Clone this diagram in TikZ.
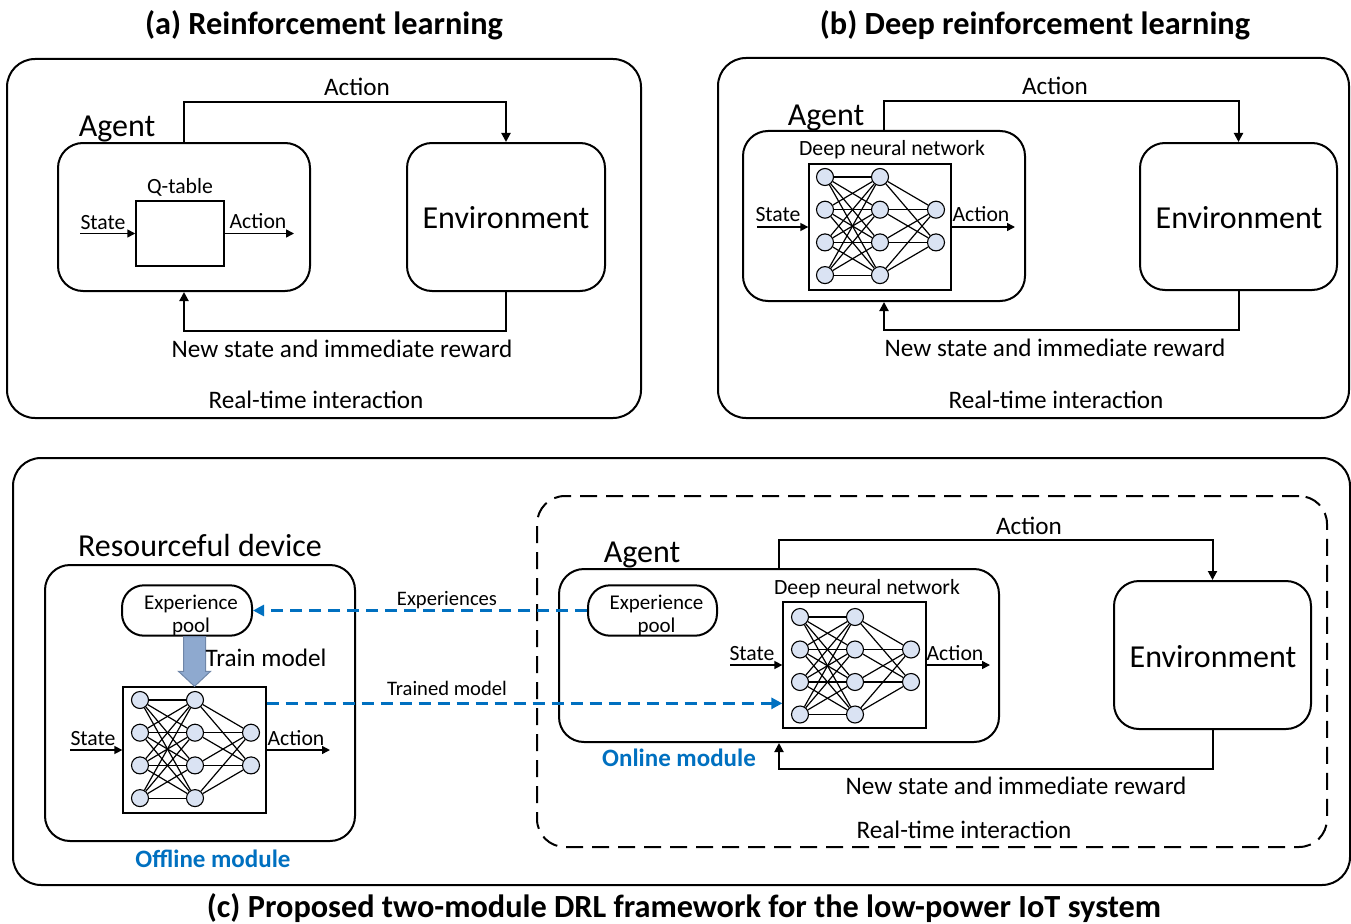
\documentclass[tikz,border=0pt]{standalone}
\usepackage{fontspec}
\setmainfont{Carlito}
\usetikzlibrary{arrows.meta,calc}
\definecolor{nnfill}{HTML}{DAE3F3}
\definecolor{myblue}{HTML}{0070C0}
\definecolor{arrfill}{HTML}{8EA9CF}
\definecolor{arrdraw}{HTML}{6F86A8}
\newcommand\fXL{\fontsize{32.3}{38}\selectfont\bfseries}
\newcommand\fL{\fontsize{32}{38}\selectfont}
\newcommand\fM{\fontsize{25.2}{30}\selectfont}
\newcommand\fS{\fontsize{21.7}{25}\selectfont}
\newcommand\fXS{\fontsize{20.6}{24}\selectfont}
\newcommand\fB{\fontsize{25}{30}\selectfont\bfseries}
\tikzset{
  outerbox/.style={draw, line width=2pt, rounded corners=28pt, inner sep=0pt},
  agentbox/.style={draw, line width=2pt, rounded corners=25pt, inner sep=0pt},
  nnbox/.style={draw, line width=1.3pt, inner sep=0pt},
  poolbox/.style={draw, line width=2pt, rounded corners=22pt, inner sep=0pt, align=center,
     font=\fontsize{21}{23}\selectfont, minimum width=130pt, minimum height=45pt},
  neuron/.style={circle, draw, line width=1.1pt, fill=nnfill, minimum size=17pt, inner sep=0pt},
  nnedge/.style={line width=1.2pt},
  conn/.style={line width=2pt, -{Triangle[length=9pt,width=9pt]}},
  sconn/.style={line width=1.5pt, -{Triangle[length=8pt,width=8pt]}},
  bluedash/.style={line width=2.6pt, myblue, dash pattern=on 12pt off 7pt,
     -{Triangle[length=11pt,width=11pt]}},
  txt/.style={inner sep=0pt, anchor=base},
}
\newcommand\nnet[4]{%
  \foreach \i in {1,...,4} {
    \node[neuron] (#1a\i) at (#2, {#3+(\i-1)*#4}) {};
    \node[neuron] (#1b\i) at ({#2+55}, {#3+(\i-1)*#4}) {};
  }
  \foreach \i in {1,2} \node[neuron] (#1c\i) at ({#2+111},{#3+\i*#4}) {};
  \foreach \i in {1,...,4} \foreach \j in {1,...,4} \draw[nnedge] (#1a\i) -- (#1b\j);
  \foreach \i in {1,...,4} \foreach \j in {1,2} \draw[nnedge] (#1b\i) -- (#1c\j);
}
\newcommand\pooltext{\hspace*{8pt}\rule{0pt}{24pt}Experience\\\hspace*{8pt}pool}
\begin{document}
\begin{tikzpicture}[x=1pt,y=-1pt]
\useasboundingbox (0,0) rectangle (1351,923);

% ---------------- (a) ----------------
\node[txt,font=\fXL] (titleA) at (324,35) {(a) Reinforcement learning};
\node[outerbox, minimum width=634pt, minimum height=359pt] (outA) at (324,238.5) {};
\node[agentbox, minimum width=252pt, minimum height=148pt] (agentA) at (184,217) {};
\node[nnbox, line width=1.5pt, minimum width=88pt, minimum height=65pt] (qtab) at (180,233.5) {};
\node[agentbox, minimum width=198pt, minimum height=148pt] (envA) at (506,217) {};
\node[txt,font=\fL] (envAt) at (506,228) {Environment};
\node[txt,font=\fL] (agentAt) at (117,136) {Agent};
\node[txt,font=\fS] (qtabt) at (180,193) {Q-table};
\coordinate (sA) at (80,233.5);
\coordinate (aA) at (294,233.5);
\draw[sconn] (sA) -- (qtab.west);
\draw[sconn] (qtab.east) -- (aA);
\node[txt,font=\fS] at (103,229) {State};
\node[txt,font=\fS] at (258,228) {Action};
\draw[conn] (agentA.north) -- ++(0,-40) -| (envA.north);
\draw[conn] (envA.south) -- ++(0,39) -| (agentA.south);
\node[txt,font=\fM] at (357,96) {Action};
\node[txt,font=\fM] at (342,357) {New state and immediate reward};
\node[txt,font=\fM] at (316,408) {Real-time interaction};

% ---------------- (b) ----------------
\node[txt,font=\fXL] (titleB) at (1035,35) {(b) Deep reinforcement learning};
\node[outerbox, minimum width=631pt, minimum height=360pt] (outB) at (1033.5,238) {};
\node[agentbox, minimum width=282pt, minimum height=170pt] (agentB) at (884,216) {};
\node[nnbox, minimum width=142pt, minimum height=126pt] (nnB) at (880,227) {};
\nnet{B}{825}{177}{32.7}
\node[agentbox, minimum width=197pt, minimum height=147pt] (envB) at (1238.5,216.5) {};
\node[txt,font=\fL] at (1239,228) {Environment};
\node[txt,font=\fL] at (826,125) {Agent};
\node[txt,font=\fS] at (892,155) {Deep neural network};
\coordinate (sB) at (757,227);
\coordinate (aB) at (1015,227);
\draw[sconn] (sB) -- (nnB.west);
\draw[sconn] (nnB.east) -- (aB);
\node[txt,font=\fS] at (778,221) {State};
\node[txt,font=\fS] at (981,221) {Action};
\draw[conn] (agentB.north) -- ++(0,-29) -| (envB.north);
\draw[conn] (envB.south) -- ++(0,39) -| (agentB.south);
\node[txt,font=\fM] at (1055,95) {Action};
\node[txt,font=\fM] at (1055,356) {New state and immediate reward};
\node[txt,font=\fM] at (1056,408) {Real-time interaction};

% ---------------- (c) ----------------
\node[outerbox, minimum width=1337pt, minimum height=427pt] (outC) at (681.5,671.5) {};
\node[txt,font=\fXL] at (684,917) {(c) Proposed two-module DRL framework for the low-power IoT system};
% offline
\node[agentbox, minimum width=310pt, minimum height=276pt] (dev) at (200,703) {};
\node[txt,font=\fL] at (200,556) {Resourceful device};
\node[txt,font=\fB,text=myblue] at (213,867) {Offline module};
\node[poolbox] (poolL) at (187,610.5) {\pooltext};
\node[nnbox, minimum width=143pt, minimum height=126pt] (nnL) at (194.5,750) {};
\nnet{L}{140}{700}{32.7}
\coordinate (aS) at (poolL.south -| nnL.north);
\draw[line width=1pt, draw=arrdraw, fill=arrfill]
  ($(aS)+(-11,0)$) -- ($(aS)+(11,0)$) -- ($(nnL.north)+(11,-15)$) -- ($(nnL.north)+(16,-15)$)
  -- (nnL.north) -- ($(nnL.north)+(-16,-15)$) -- ($(nnL.north)+(-11,-15)$) -- cycle;
\node[txt,font=\fM] at (266,666) {Train model};
\coordinate (sL) at (70,750);
\coordinate (aL) at (330,750);
\draw[sconn] (sL) -- (nnL.west);
\draw[sconn] (nnL.east) -- (aL);
\node[txt,font=\fS] at (93,745) {State};
\node[txt,font=\fS] at (296,745) {Action};
% online
\node[draw, line width=2pt, dash pattern=on 17pt off 9pt, rounded corners=28pt,
  minimum width=790pt, minimum height=351pt, inner sep=0pt] (onl) at (932,671.5) {};
\node[txt,font=\fM] at (964,838) {Real-time interaction};
\node[agentbox, minimum width=440pt, minimum height=173pt] (agentC) at (779,655.5) {};
\node[txt,font=\fL] at (642,562) {Agent};
\node[txt,font=\fB,text=myblue] at (679,766) {Online module};
\node[poolbox, minimum width=129pt] (poolR) at (652.5,610.5) {\pooltext};
\node[nnbox, minimum width=143pt, minimum height=126pt] (nnR) at (854.5,665) {};
\nnet{R}{800}{617}{32.5}
\node[txt,font=\fS] at (867,594) {Deep neural network};
\coordinate (sR) at (730,665);
\coordinate (aR) at (990,665);
\draw[sconn] (sR) -- (nnR.west);
\draw[sconn] (nnR.east) -- (aR);
\node[txt,font=\fS] at (752,660) {State};
\node[txt,font=\fS] at (955,660) {Action};
\node[agentbox, minimum width=197pt, minimum height=148pt] (envC) at (1212.5,655) {};
\node[txt,font=\fL] at (1213,667) {Environment};
\draw[conn] (agentC.north) -- ++(0,-28) -| (envC.north);
\draw[conn] (envC.south) -- ++(0,39) -| (agentC.south);
\node[txt,font=\fM] at (1029,534) {Action};
\node[txt,font=\fM] at (1016,794) {New state and immediate reward};
% blue dashed
\draw[bluedash] (poolR.west) -- (poolL.east);
\coordinate (tmS) at ($(nnL.north east)+(0,17)$);
\draw[bluedash] (tmS) -- (tmS -| nnR.west);
\node[txt,font=\fXS] at (447,605) {Experiences};
\node[txt,font=\fXS] at (447,695) {Trained model};
\end{tikzpicture}
\end{document}
